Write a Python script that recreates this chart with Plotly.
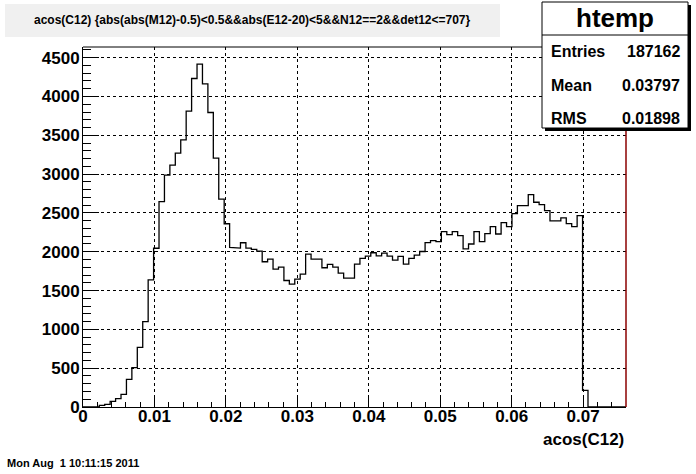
import plotly.graph_objects as go

# ---- data ----
x_min = 0.0
x_max = 0.076
n_bins = 100
counts = [
    0, 0, 6, 22, 34, 73, 107, 163, 357, 507,
    769, 1100, 1637, 2045, 2647, 2986, 3115, 3270, 3442, 3811,
    4232, 4417, 4164, 3794, 3205, 2677, 2361, 2056, 2047, 2116,
    2047, 2030, 2009, 1871, 1905, 1777, 1802, 1630, 1583, 1648,
    1712, 1970, 1905, 1905, 1794, 1837, 1802, 1725, 1660, 1660,
    1841, 1914, 1944, 1987, 1948, 1983, 1944, 1893, 1940, 1841,
    1914, 1957, 2003, 2117, 2143, 2130, 2259, 2221, 2259, 2208,
    2036, 2100, 2259, 2130, 2234, 2324, 2229, 2375, 2324, 2491,
    2595, 2595, 2736, 2638, 2607, 2530, 2397, 2397, 2436, 2363,
    2324, 2466, 214, 0, 0, 0, 0, 0, 0, 0,
]
title_text = "acos(C12) {abs(abs(M12)-0.5)<0.5&&abs(E12-20)<5&&N12==2&&det12<=707}"
x_title = "acos(C12)"
stats_name = "htemp"
stats_labels = ["Entries", "Mean", "RMS"]
stats_values = ["187162", "0.03797", "0.01898"]
date_text = "Mon Aug  1 10:11:15 2011"

# ---- build step outline ----
bw = (x_max - x_min) / n_bins
xs = [x_min]
ys = [0]
for i, c in enumerate(counts):
    lo = x_min + i * bw
    hi = lo + bw
    xs += [lo, hi]
    ys += [c, c]
xs.append(x_max)
ys.append(0)

W, H = 696, 474
PL, PR, PT, PB = 83, 626, 47, 407


def px(x):
    return (x - PL) / (PR - PL)


def py(y):
    return (PB - y) / (PB - PT)


FONT = "Liberation Sans, Arial, Helvetica, sans-serif"

fig = go.Figure()
fig.add_trace(go.Scatter(x=xs, y=ys, mode="lines",
                         line=dict(color="black", width=1.3),
                         hoverinfo="skip", showlegend=False))

ymax = max(counts) * 1.05

fig.update_layout(
    width=W, height=H,
    margin=dict(l=PL, r=W - PR, t=PT, b=H - PB, pad=0, autoexpand=False),
    paper_bgcolor="white", plot_bgcolor="white",
    showlegend=False,
    xaxis=dict(
        range=[x_min, x_max], tick0=0, dtick=0.01,
        showgrid=True, gridcolor="black", griddash="dot", gridwidth=1,
        zeroline=False, showline=True, linecolor="black", linewidth=1,
        ticks="inside", ticklen=11, tickwidth=1, tickcolor="black",
        minor=dict(dtick=0.002, ticks="inside", ticklen=5, tickwidth=1,
                   tickcolor="black", showgrid=False),
        tickfont=dict(family=FONT, size=17, color="black", weight="bold"),
        ticklabelstandoff=-6,
    ),
    yaxis=dict(
        range=[0, ymax], tick0=0, dtick=500,
        showgrid=True, gridcolor="black", griddash="dot", gridwidth=1,
        zeroline=False, showline=True, linecolor="black", linewidth=1,
        ticks="inside", ticklen=16, tickwidth=1, tickcolor="black",
        minor=dict(dtick=100, ticks="inside", ticklen=8, tickwidth=1,
                   tickcolor="black", showgrid=False),
        tickfont=dict(family=FONT, size=17, color="black", weight="bold"),
        ticklabelstandoff=-1,
    ),
)

shapes = []
# frame top and right
shapes.append(dict(type="line", xref="paper", yref="paper", x0=0, x1=1, y0=1, y1=1,
                   line=dict(color="black", width=1), layer="above"))
shapes.append(dict(type="line", xref="paper", yref="paper", x0=1, x1=1, y0=0, y1=1,
                   line=dict(color="#8b0000", width=1.5), layer="above"))
# title box
shapes.append(dict(type="rect", xref="paper", yref="paper",
                   x0=px(5), x1=px(500), y0=py(37), y1=py(4),
                   fillcolor="#f0f0f0", line=dict(width=0), layer="above"))
# stats box shadow
shapes.append(dict(type="rect", xref="paper", yref="paper",
                   x0=px(545), x1=px(691), y0=py(131), y1=py(5),
                   fillcolor="black", line=dict(width=0), layer="above"))
# stats box
shapes.append(dict(type="rect", xref="paper", yref="paper",
                   x0=px(542), x1=px(688), y0=py(128), y1=py(2),
                   fillcolor="white", line=dict(color="black", width=1), layer="above"))
shapes.append(dict(type="line", xref="paper", yref="paper",
                   x0=px(542), x1=px(688), y0=py(35), y1=py(35),
                   line=dict(color="black", width=1), layer="above"))
fig.update_layout(shapes=shapes)

ann = []
ann.append(dict(text=title_text, xref="paper", yref="paper", x=px(252), y=py(20),
                xanchor="center", yanchor="middle", showarrow=False,
                font=dict(family=FONT, size=12, color="black", weight="bold")))
ann.append(dict(text=stats_name, xref="paper", yref="paper", x=px(615), y=py(18),
                xanchor="center", yanchor="middle", showarrow=False,
                font=dict(family=FONT, size=26, color="black", weight="bold")))
row_y = [52, 86, 119]
for lab, val, yy in zip(stats_labels, stats_values, row_y):
    ann.append(dict(text=lab, xref="paper", yref="paper", x=px(549), y=py(yy),
                    xanchor="left", yanchor="middle", showarrow=False,
                    font=dict(family=FONT, size=16, color="black", weight="bold")))
    ann.append(dict(text=val, xref="paper", yref="paper", x=px(682), y=py(yy),
                    xanchor="right", yanchor="middle", showarrow=False,
                    font=dict(family=FONT, size=16, color="black", weight="bold")))
ann.append(dict(text=x_title, xref="paper", yref="paper", x=px(626), y=py(440),
                xanchor="right", yanchor="middle", showarrow=False,
                font=dict(family=FONT, size=17, color="black", weight="bold")))
ann.append(dict(text=date_text.replace("  ", "&nbsp; "), xref="paper", yref="paper",
                x=px(5), y=py(463),
                xanchor="left", yanchor="middle", showarrow=False,
                font=dict(family=FONT, size=11, color="black", weight="bold")))
fig.update_layout(annotations=ann)

fig.write_html("out.html",
               config={"displayModeBar": False, "staticPlot": True},
               post_script="document.body.style.margin='0';document.body.style.padding='0';")
